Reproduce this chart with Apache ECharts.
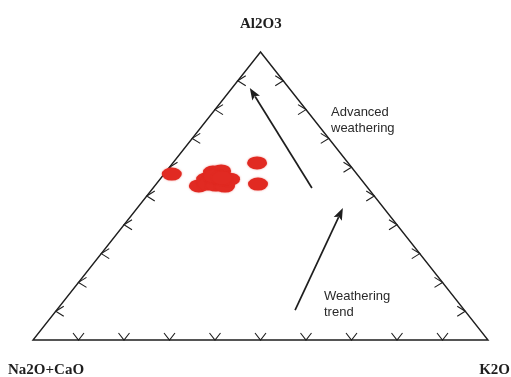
<!DOCTYPE html>
<html>
<head>
<meta charset="utf-8">
<script src="https://cdn.jsdelivr.net/npm/echarts@6/dist/echarts.min.js"></script>
<style>
  html, body { margin: 0; padding: 0; background: #ffffff; }
  #chart { width: 511px; height: 377px; }
</style>
</head>
<body>
<div id="chart"></div>
<script>
// A-CN-K ternary diagram: sample compositions (molar proportions, %)
const al2o3   = [57.6, 53.5, 55.9, 58.3, 58.7, 54.2, 53.8, 53.5, 55.9, 56.9, 56.3, 61.5, 54.2];
const na2oCao = [40.7, 36.8, 34.0, 31.3, 29.3, 34.5, 32.9, 31.1, 28.8, 31.8, 30.3, 20.0, 23.5];
const k2o     = [ 1.7,  9.7, 10.1, 10.4, 12.0, 11.4, 13.3, 15.5, 15.4, 11.3, 13.4, 18.5, 22.4];

// Tick positions along each edge (%)
const tickValues = [10, 20, 30, 40, 50, 60, 70, 80, 90];

// Apex labels
const apexTop = 'Al2O3';
const apexLeft = 'Na2O+CaO';
const apexRight = 'K2O';

// Trend arrows, compositions as [Al2O3, Na2O+CaO, K2O]
const arrowStart = [[52.8, 12.3, 34.9], [10.4, 37.2, 52.4]];
const arrowEnd   = [[87.5,  8.6,  3.9], [45.8,  9.0, 45.2]];

const noteAdvanced = 'Advanced\nweathering';
const noteTrend = 'Weathering\ntrend';

// Ternary composition -> plane coordinates (base 0..1, height 0..1)
function toPlane(a, cn, k) {
  const s = a + cn + k;
  return [k / s + (a / s) / 2, a / s];
}

const points = al2o3.map((a, i) => toPlane(a, na2oCao[i], k2o[i]));

const ink = '#1e1e1e';

function frameRender(params, api) {
  const top = api.coord(toPlane(100, 0, 0));
  const left = api.coord(toPlane(0, 100, 0));
  const right = api.coord(toPlane(0, 0, 100));
  const children = [{
    type: 'polygon',
    shape: { points: [top, left, right] },
    style: { fill: 'none', stroke: ink, lineWidth: 1.4 }
  }];
  const chev = (pts) => children.push({
    type: 'polyline',
    shape: { points: pts },
    style: { fill: 'none', stroke: ink, lineWidth: 1.1 }
  });
  tickValues.forEach(v => {
    // base edge (Na2O+CaO - K2O): V marks opening upward
    const b = api.coord(toPlane(0, 100 - v, v));
    chev([[b[0] - 5.5, b[1] - 7], b, [b[0] + 5.5, b[1] - 7]]);
    // left edge (Na2O+CaO - Al2O3): < marks opening right
    const l = api.coord(toPlane(v, 100 - v, 0));
    chev([[l[0] + 8, l[1] - 5], l, [l[0] + 8, l[1] + 5]]);
    // right edge (K2O - Al2O3): > marks opening left
    const r = api.coord(toPlane(v, 0, 100 - v));
    chev([[r[0] - 8, r[1] - 5], r, [r[0] - 8, r[1] + 5]]);
  });
  return { type: 'group', children };
}

function arrowRender(params, api) {
  const i = params.dataIndex;
  const s = arrowStart[i], e = arrowEnd[i];
  const p0 = api.coord(toPlane(s[0], s[1], s[2]));
  const p1 = api.coord(toPlane(e[0], e[1], e[2]));
  const dx = p1[0] - p0[0], dy = p1[1] - p0[1];
  const len = Math.hypot(dx, dy);
  const ux = dx / len, uy = dy / len;
  const headLen = 12, headHalf = 4.5;
  const base = [p1[0] - ux * headLen, p1[1] - uy * headLen];
  return {
    type: 'group',
    children: [{
      type: 'line',
      shape: { x1: p0[0], y1: p0[1], x2: base[0] + ux * 2, y2: base[1] + uy * 2 },
      style: { stroke: ink, lineWidth: 1.7 }
    }, {
      type: 'polygon',
      shape: { points: [p1,
        [base[0] - uy * headHalf, base[1] + ux * headHalf],
        [base[0] + ux * 2.5, base[1] + uy * 2.5],
        [base[0] + uy * headHalf, base[1] - ux * headHalf]] },
      style: { fill: ink }
    }]
  };
}

const chart = echarts.init(document.getElementById('chart'), null, { renderer: 'canvas' });

const serifFont = 'bold 15px "Liberation Serif", "DejaVu Serif", serif';
const sansFont = '13px "Liberation Sans", Arial, sans-serif';

chart.setOption({
  backgroundColor: '#ffffff',
  animation: false,
  grid: { left: 33, right: 23, top: 52, bottom: 37 },
  xAxis: { type: 'value', min: 0, max: 1, show: false },
  yAxis: { type: 'value', min: 0, max: 1, show: false },
  series: [{
    type: 'custom',
    renderItem: frameRender,
    data: [0],
    silent: true,
    z: 1
  }, {
    type: 'custom',
    renderItem: arrowRender,
    data: arrowStart.map((_, i) => i),
    silent: true,
    z: 2
  }, {
    type: 'scatter',
    data: points,
    symbol: 'circle',
    symbolSize: [20, 13],
    itemStyle: { color: '#e12a22', opacity: 1, shadowColor: 'rgba(225,42,34,0.5)', shadowBlur: 2 },
    silent: true,
    z: 3
  }],
  graphic: [{
    type: 'text', left: 240, top: 17,
    style: { text: apexTop, font: serifFont, fill: ink }
  }, {
    type: 'text', left: 8, top: 363,
    style: { text: apexLeft, font: serifFont, fill: ink }
  }, {
    type: 'text', right: 1, top: 363,
    style: { text: apexRight, font: serifFont, fill: ink }
  }, {
    type: 'text', left: 331, top: 104,
    style: { text: noteAdvanced, font: sansFont, fill: '#2a2a2a', lineHeight: 16 }
  }, {
    type: 'text', left: 324, top: 288,
    style: { text: noteTrend, font: sansFont, fill: '#2a2a2a', lineHeight: 16 }
  }]
});
</script>
</body>
</html>
